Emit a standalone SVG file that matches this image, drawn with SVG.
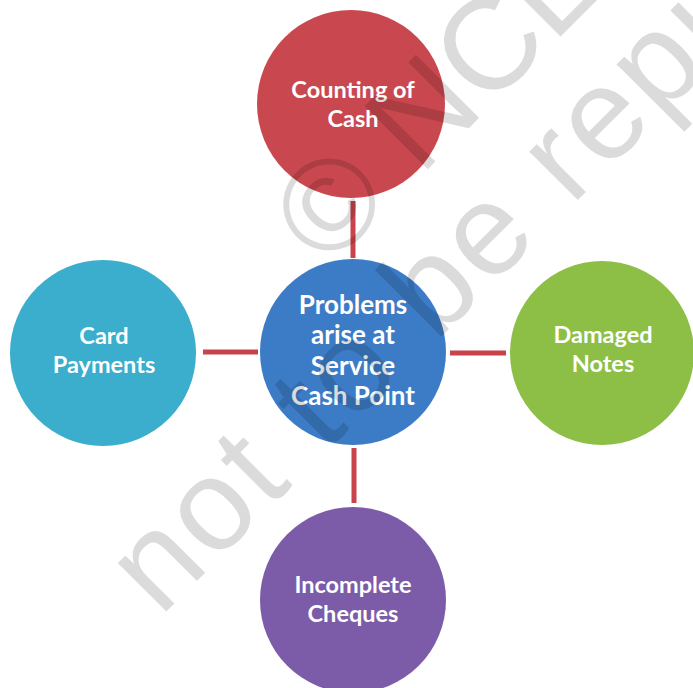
<svg xmlns="http://www.w3.org/2000/svg" width="693" height="688" viewBox="0 0 693 688">
  <style>
    .lbl { font-family: Lato, "Open Sans", "Liberation Sans", sans-serif; font-weight: bold; font-size: 23.5px; fill: #ffffff; text-anchor: middle; }
    .big { font-size: 26px; }
    .conn { stroke: #c8434b; stroke-width: 5; stroke-linecap: butt; fill: none; }
    .wm { font-family: "Liberation Sans", Arial, sans-serif; font-size: 130px; fill: #000000; fill-opacity: 0.14; }
  </style>
  <rect x="0" y="0" width="693" height="688" fill="#ffffff"/>
  <g id="connectors">
    <line class="conn" x1="353" y1="201" x2="353" y2="258"/>
    <line class="conn" x1="203" y1="352" x2="258" y2="352"/>
    <line class="conn" x1="450" y1="353" x2="506" y2="353"/>
    <line class="conn" x1="354" y1="448" x2="354" y2="503"/>
  </g>
  <g id="node-counting">
    <circle cx="351" cy="104" r="94" fill="#c9484f"/>
    <text class="lbl" x="353" y="98">Counting of</text>
    <text class="lbl" x="353" y="127">Cash</text>
  </g>
  <g id="node-center">
    <circle cx="353" cy="352" r="93" fill="#3c7cc6"/>
    <text class="lbl big" x="353" y="314">Problems</text>
    <text class="lbl big" x="353" y="344">arise at</text>
    <text class="lbl big" x="353" y="375">Service</text>
    <text class="lbl big" x="353" y="405">Cash Point</text>
  </g>
  <g id="node-card">
    <circle cx="103" cy="353" r="93" fill="#3badcd"/>
    <text class="lbl" x="104" y="344">Card</text>
    <text class="lbl" x="104" y="373">Payments</text>
  </g>
  <g id="node-damaged">
    <circle cx="602" cy="353" r="92" fill="#8dbf47"/>
    <text class="lbl" x="603" y="343">Damaged</text>
    <text class="lbl" x="603" y="372">Notes</text>
  </g>
  <g id="node-cheques">
    <circle cx="353" cy="600" r="93" fill="#7c5ca8"/>
    <text class="lbl" x="353" y="593">Incomplete</text>
    <text class="lbl" x="353" y="622">Cheques</text>
  </g>
  <g id="watermark">
    <text class="wm" transform="translate(327,270) rotate(-45)">© NCERT</text>
    <text class="wm" letter-spacing="4" transform="translate(160,618) rotate(-45)">not to be republished</text>
  </g>
</svg>
